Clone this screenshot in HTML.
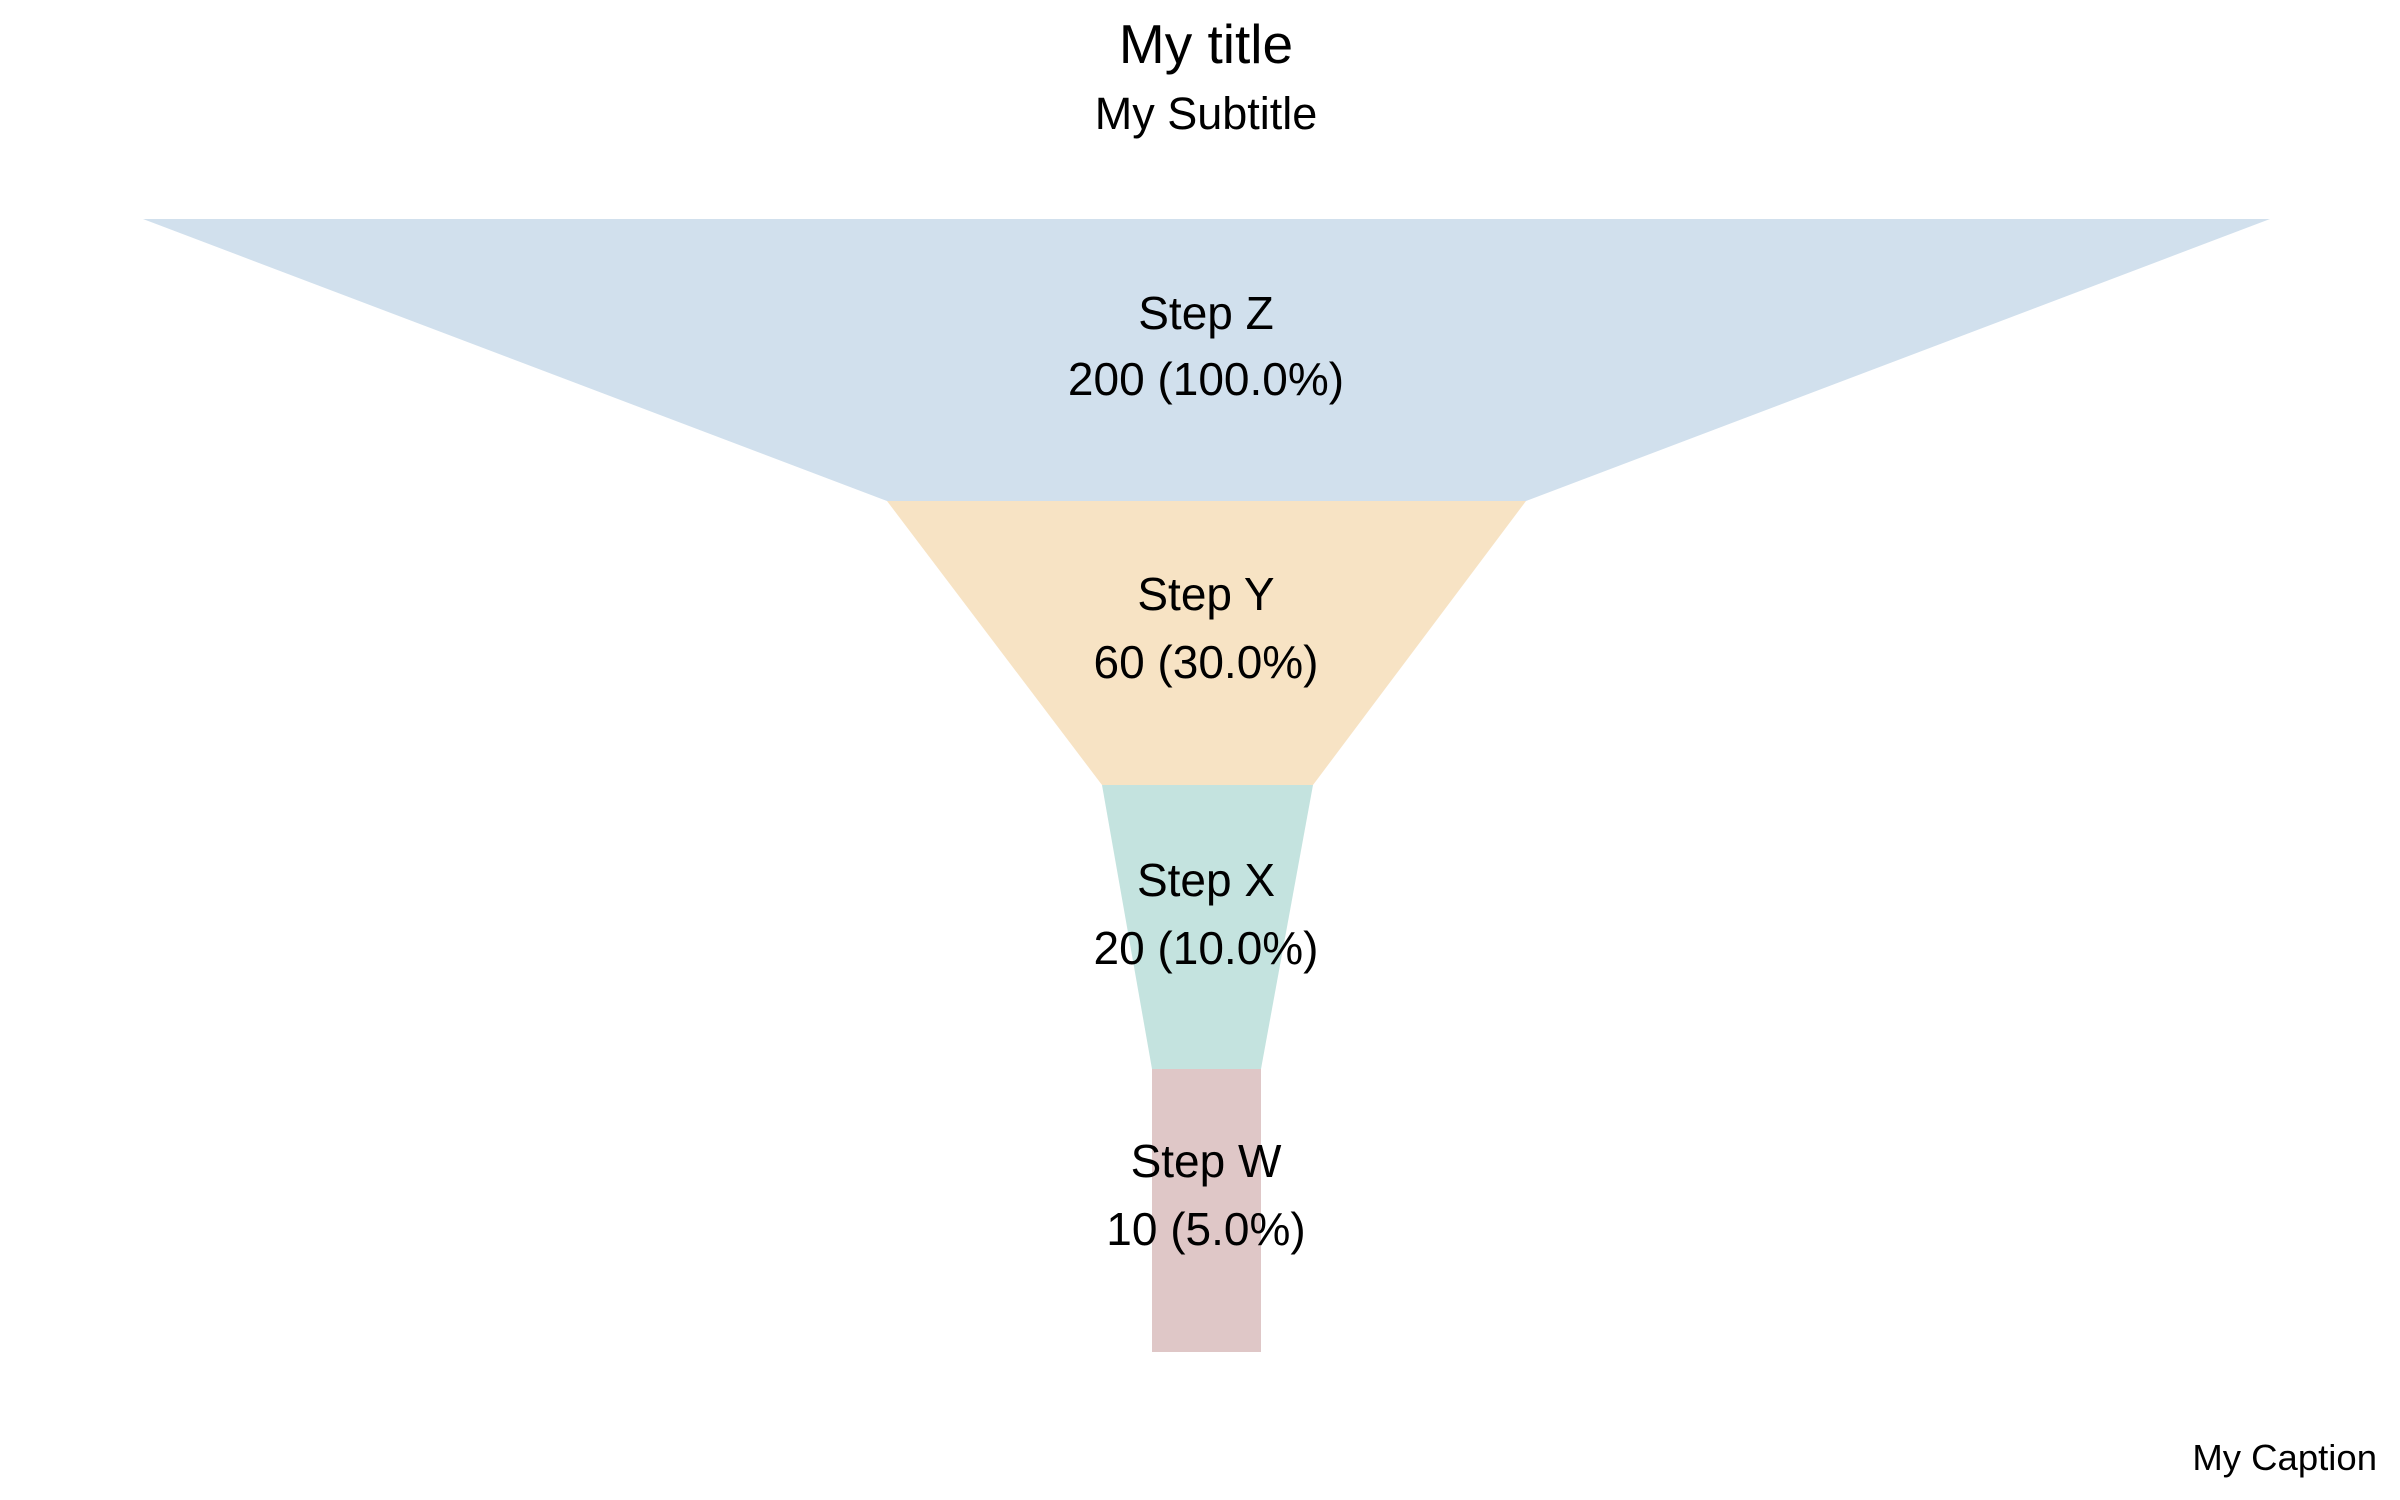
<!DOCTYPE html>
<html><head><meta charset="utf-8"><style>
html,body{margin:0;padding:0;background:#fff;width:2400px;height:1500px;overflow:hidden}
</style></head><body>
<svg width="2400" height="1500" viewBox="0 0 2400 1500" xmlns="http://www.w3.org/2000/svg" font-family="Liberation Sans, Arial, sans-serif" text-anchor="middle" fill="#000">
<polygon points="143,219 2270,219 1526,501 887,501" fill="#d1e0ed"/>
<polygon points="887,501 1526,501 1313,785 1102,785" fill="#f7e3c4"/>
<polygon points="1102,785 1313,785 1261,1069 1152,1069" fill="#c4e3df"/>
<polygon points="1152,1069 1261,1069 1261,1352 1152,1352" fill="#dfc7c7"/>
<text x="1206" y="63" font-size="55">My title</text>
<text x="1206" y="129" font-size="45">My Subtitle</text>
<text x="1206" y="329" font-size="46">Step Z</text>
<text x="1206" y="395" font-size="46">200 (100.0%)</text>
<text x="1206" y="610" font-size="46">Step Y</text>
<text x="1206" y="678" font-size="46">60 (30.0%)</text>
<text x="1206" y="896" font-size="46">Step X</text>
<text x="1206" y="964" font-size="46">20 (10.0%)</text>
<text x="1206" y="1177" font-size="46">Step W</text>
<text x="1206" y="1245" font-size="46">10 (5.0%)</text>
<text x="2377" y="1470" font-size="36.5" text-anchor="end">My Caption</text>
</svg>
</body></html>
